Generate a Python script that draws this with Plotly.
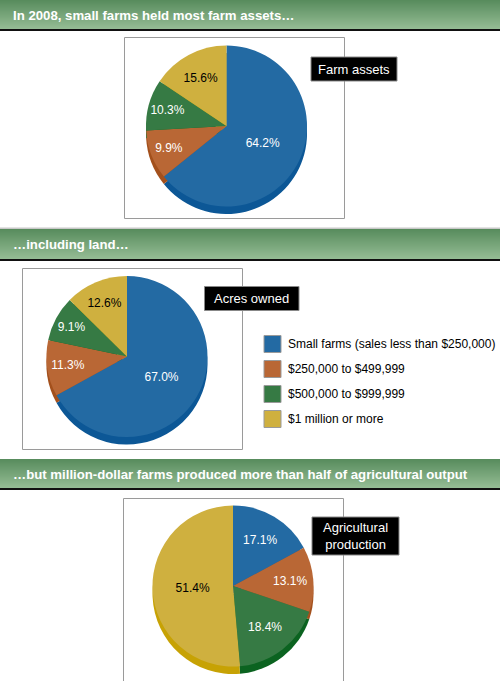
import plotly.graph_objects as go

# ---------------- data ----------------
categories = [
    "Small farms (sales less than $250,000)",
    "$250,000 to $499,999",
    "$500,000 to $999,999",
    "$1 million or more",
]
farm_assets = [64.2, 9.9, 10.3, 15.6]
acres_owned = [67.0, 11.3, 9.1, 12.6]
ag_production = [17.1, 13.1, 18.4, 51.4]

headers = [
    "In 2008, small farms held most farm assets\u2026",
    "\u2026including land\u2026",
    "\u2026but million-dollar farms produced more than half of agricultural output",
]
pie_titles = ["Farm assets", "Acres owned", "Agricultural<br>production"]

# ---------------- style ----------------
W, H = 500, 681
colors = ["#236aa3", "#b96735", "#367a44", "#cfb03f"]
shade = ["#0c5796", "#a3501c", "#0b6320", "#c7a204"]
text_cols = ["white", "white", "white", "black"]
FONT = "Liberation Sans, Arial, Helvetica, sans-serif"


def fx(x):
    return x / W


def fy(y):
    return 1 - y / H


fig = go.Figure()
shapes = []
annotations = []

# header bars with vertical gradient
top_rgb = (88, 140, 93)
bot_rgb = (148, 188, 148)
header_geom = [(0, 29), (229, 259), (459, 488)]
for (y0, y1), txt in zip(header_geom, headers):
    n = y1 - y0
    for i in range(n):
        t = i / max(n - 1, 1)
        c = tuple(int(round(a + (b - a) * t)) for a, b in zip(top_rgb, bot_rgb))
        shapes.append(dict(type="rect", xref="x", yref="y", x0=0, x1=W, y0=y0 + i, y1=y0 + i + 1.05,
                           fillcolor="rgb(%d,%d,%d)" % c, line=dict(width=0), layer="below"))
    shapes.append(dict(type="rect", xref="x", yref="y", x0=0, x1=W, y0=y1, y1=y1 + 2,
                       fillcolor="#111111", line=dict(width=0), layer="below"))
    annotations.append(dict(x=11, y=(y0 + y1) / 2 + 0.5, xref="x", yref="y", text="<b>%s</b>" % txt,
                            showarrow=False, xanchor="left", yanchor="middle",
                            font=dict(family=FONT, size=13.2, color="white")))
shapes.append(dict(type="rect", xref="x", yref="y", x0=0, x1=W, y0=227.5, y1=229,
                   fillcolor="#c8c8c8", line=dict(width=0), layer="below"))

# chart frames
frames = [(124.5, 37.5, 344.5, 218.5), (22.5, 268.5, 242.5, 449.5), (123.5, 498.5, 343.5, 690)]
for x0, y0, x1, y1 in frames:
    shapes.append(dict(type="rect", xref="x", yref="y", x0=x0, x1=x1, y0=y0, y1=y1,
                       line=dict(color="#9a9a9a", width=1), fillcolor="rgba(0,0,0,0)", layer="below"))

# pies with 3-D depth
R = 80.5
DEPTH = 7.5
pies = [(farm_assets, 226.5, 126.0), (acres_owned, 127.0, 356.5), (ag_production, 233.0, 586.0)]
for vals, cx, cy in pies:
    for dy, cols, show in [(DEPTH, shade, False), (0, colors, True)]:
        fig.add_trace(go.Pie(
            values=vals, labels=categories, sort=False, direction="clockwise", rotation=0,
            domain=dict(x=[fx(cx - R), fx(cx + R)], y=[fy(cy + dy + R), fy(cy + dy - R)]),
            marker=dict(colors=cols, line=dict(width=0)),
            textinfo="text" if show else "none",
            text=["%.1f%%" % v for v in vals],
            textposition="inside" if show else "none",
            insidetextorientation="horizontal",
            textfont=dict(family=FONT, size=12, color=text_cols),
            showlegend=False, hoverinfo="label+value",
        ))

# label boxes
label_boxes = [(311, 57, 397, 81), (204.5, 286.5, 299, 310.5), (312, 517, 399, 555)]
for (x0, y0, x1, y1), t in zip(label_boxes, pie_titles):
    shapes.append(dict(type="rect", xref="x", yref="y", x0=x0, x1=x1, y0=y0, y1=y1,
                       fillcolor="black", line=dict(color="#888888", width=1), layer="above"))
    annotations.append(dict(x=(x0 + x1) / 2, y=(y0 + y1) / 2, xref="x", yref="y", text=t,
                            showarrow=False, xanchor="center", yanchor="middle",
                            font=dict(family=FONT, size=13, color="white")))

# custom legend
leg_y = [344, 369, 394, 419]
for c, name, y in zip(colors, categories, leg_y):
    shapes.append(dict(type="rect", xref="x", yref="y", x0=264, x1=281, y0=y - 8.5, y1=y + 8.5,
                       fillcolor=c, line=dict(color="#9a9a9a", width=1), layer="above"))
    annotations.append(dict(x=286, y=y, xref="x", yref="y", text=name, showarrow=False,
                            xanchor="left", yanchor="middle",
                            font=dict(family=FONT, size=12, color="black")))

fig.update_layout(
    width=W, height=H, autosize=False,
    margin=dict(l=0, r=0, t=0, b=0, pad=0),
    paper_bgcolor="white", plot_bgcolor="white",
    xaxis=dict(range=[0, W], visible=False, fixedrange=True, domain=[0, 1]),
    yaxis=dict(range=[H, 0], visible=False, fixedrange=True, domain=[0, 1]),
    shapes=shapes, annotations=annotations,
    showlegend=False,
)

fig.write_html("out.html", config={"displayModeBar": False},
               post_script="document.body.style.margin='0';")
